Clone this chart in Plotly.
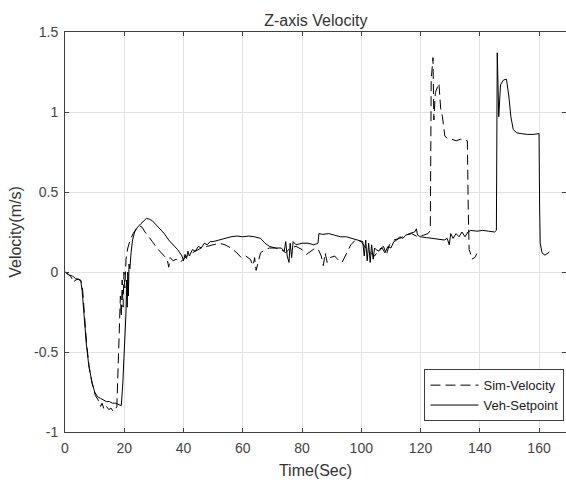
import plotly.graph_objects as go

# Sim-Velocity (dashed)
sim_t = [0, 1, 2, 2.5, 3.0, 3.5, 4.5, 5.5, 6.0, 6.5, 7.3, 8.2, 9.2, 10.2, 11.2, 12.0, 12.5, 13.2,
         14.0, 14.8, 15.5, 16.2, 17.0, 17.5, 18.0, 18.4, 18.7, 19.0, 19.3, 19.6, 19.9, 20.2, 20.6,
         21.2, 22, 23, 24, 25, 26, 27, 28.3, 29.5, 31, 32.5, 33.5, 34.5, 35, 35.5, 36.5, 37.5,
         38.5, 39.5, 40.5, 42, 44, 46, 48, 50, 52, 54, 56, 58, 59.5, 61, 62.5, 63.5, 64, 64.5,
         65.2, 66, 67.5, 69, 71, 73, 74.5, 76, 78, 80, 81.5, 83, 84.5, 85.5, 86.5, 87.2, 87.8,
         88.5, 89.5, 91, 92.5, 93.5, 94.5, 95.5, 96.5, 98, 100, 101.5, 103, 104.5, 106, 107.5,
         108.5, 109.5, 111, 113, 115, 117, 119, 121, 122.5, 123.3, 123.6, 124.2, 124.5, 125.0,
         125.6, 126.2, 126.8, 127.4, 128.2, 129, 130.5, 132, 133.5, 135.8, 136.1, 136.4, 136.8,
         137.3, 138.3, 139]
sim_v = [0, -0.01, -0.03, -0.05, -0.065, -0.05, -0.045, -0.06, -0.12, -0.25, -0.45, -0.6, -0.7,
         -0.77, -0.8, -0.84, -0.82, -0.86, -0.84, -0.86, -0.85, -0.87, -0.86, -0.84, -0.55, -0.3,
         -0.15, -0.28, -0.05, -0.22, 0.0, -0.1, 0.08, 0.15, 0.2, 0.24, 0.27, 0.29, 0.28, 0.25,
         0.22, 0.19, 0.15, 0.12, 0.1, 0.08, 0.03, 0.09, 0.07, 0.08, 0.06, 0.07, 0.09, 0.11, 0.13,
         0.15, 0.16, 0.17, 0.18, 0.17, 0.15, 0.12, 0.09, 0.1, 0.08, 0.04, 0.09, 0.01, 0.07, 0.12,
         0.14, 0.15, 0.15, 0.14, 0.12, 0.15, 0.16, 0.14, 0.11, 0.13, 0.15, 0.14, 0.1, 0.04, 0.12,
         0.06, 0.09, 0.1, 0.07, 0.06, 0.1, 0.14, 0.17, 0.2, 0.19, 0.15, 0.12, 0.1, 0.14, 0.16,
         0.11, 0.17, 0.2, 0.21, 0.23, 0.24, 0.22, 0.23, 0.24, 0.26, 1.2, 1.34, 0.95, 1.12, 1.15,
         1.18, 1.02, 0.97, 0.85, 0.835, 0.83, 0.82, 0.83, 0.82, 0.4, 0.14, 0.12, 0.08, 0.09, 0.115]

# Veh-Setpoint (solid)
veh_t = [0, 0.5, 1.5, 2.5, 3.5, 4.5, 5.3, 5.8, 6.5, 7.2, 8.0, 9.0, 10.0, 11.0, 12.0, 13.0, 14.0,
         15.0, 16.0, 17.0, 18.0, 19.0, 19.5, 20.2, 20.6, 20.8, 21.0, 21.2, 21.4, 21.6, 21.9, 22.3,
         22.8, 23.5, 24.5, 25.5, 26.5, 27.5, 28.5, 29.5, 30.5, 32, 33.5, 35, 36.5, 38, 39.5, 40,
         40.5, 41, 41.5, 42, 43, 44, 45, 46, 47, 48, 49, 50, 52, 54, 56, 58, 60, 62, 64, 66, 67.5,
         69, 71, 73, 74, 74.5, 75, 75.6, 76, 76.5, 77, 78, 80, 82, 84, 85.4, 85.7, 87, 89, 91, 93,
         95, 97, 99, 100.5, 101, 101.5, 102, 102.5, 103, 103.5, 104, 104.5, 105, 106, 107, 108,
         109, 110, 111, 112, 113, 114, 115, 116, 117, 118, 118.6, 119, 120, 122, 124, 126, 128,
         129, 129.7, 130.2, 131, 132, 133, 134, 135, 136, 137, 139, 141, 143, 145, 145.6, 145.9,
         146.4, 147.0, 148, 149, 149.8, 150.5, 151.3, 152.5, 154, 156, 158, 160.0, 160.2, 160.4,
         161.0, 162.0, 163.5]
veh_v = [0, -0.01, -0.02, -0.025, -0.04, -0.045, -0.05, -0.12, -0.3, -0.45, -0.58, -0.68, -0.75,
         -0.78, -0.79, -0.8, -0.81, -0.81, -0.82, -0.82, -0.83, -0.835, -0.7, -0.45, -0.25, -0.05,
         -0.22, 0.0, -0.15, 0.05, 0.02, 0.12, 0.2, 0.25, 0.28, 0.3, 0.32, 0.335, 0.33, 0.32, 0.3,
         0.27, 0.24, 0.2, 0.17, 0.14, 0.1, 0.07, 0.11, 0.085, 0.13, 0.1, 0.14, 0.13, 0.16, 0.15,
         0.18, 0.17, 0.19, 0.19, 0.2, 0.21, 0.22, 0.225, 0.22, 0.225, 0.22, 0.21, 0.18, 0.16, 0.15,
         0.15, 0.13, 0.19, 0.1, 0.06, 0.18, 0.09, 0.19, 0.17, 0.18, 0.18, 0.17, 0.18, 0.24, 0.235,
         0.24, 0.23, 0.22, 0.22, 0.21, 0.2, 0.19, 0.1, 0.2, 0.07, 0.18, 0.06, 0.17, 0.08, 0.15,
         0.14, 0.13, 0.15, 0.12, 0.16, 0.15, 0.19, 0.2, 0.22, 0.21, 0.23, 0.24, 0.245, 0.25, 0.27,
         0.23, 0.22, 0.215, 0.21, 0.205, 0.2, 0.21, 0.17, 0.24, 0.21, 0.24, 0.22, 0.25, 0.22, 0.25,
         0.26, 0.255, 0.26, 0.255, 0.25, 0.26, 1.37, 0.97, 1.17, 1.2, 1.205, 1.1, 0.97, 0.89, 0.87,
         0.865, 0.86, 0.86, 0.865, 0.4, 0.18, 0.12, 0.105, 0.125]

x_ticks = [0, 20, 40, 60, 80, 100, 120, 140, 160]
y_ticks = [-1, -0.5, 0, 0.5, 1, 1.5]
y_tick_text = ["-1", "-0.5", "0", "0.5", "1", "1.5"]

FONT = "Liberation Sans, Arial"

fig = go.Figure()
fig.add_trace(go.Scatter(x=sim_t, y=sim_v, mode="lines", name="Sim-Velocity",
                         line=dict(color="black", width=1, dash="10px,5px")))
fig.add_trace(go.Scatter(x=veh_t, y=veh_v, mode="lines", name="Veh-Setpoint",
                         line=dict(color="black", width=1)))

axis_common = dict(showline=True, linecolor="#404040", linewidth=1, mirror="allticks",
                   ticks="inside", ticklen=4, tickcolor="#404040", ticklabelstandoff=3,
                   showgrid=True, gridcolor="#e3e3e3", gridwidth=1, zeroline=False,
                   tickfont=dict(family=FONT, size=14, color="#444444"))

fig.update_xaxes(range=[0, 169.1], tickvals=x_ticks, **axis_common,
                 title=dict(text="Time(Sec)", standoff=10,
                            font=dict(family=FONT, size=16, color="#333333")))
fig.update_yaxes(range=[-1, 1.5], tickvals=y_ticks, ticktext=y_tick_text, **axis_common,
                 title=dict(text="Velocity(m/s)", standoff=8,
                            font=dict(family=FONT, size=16, color="#333333")))

fig.update_layout(
    width=566, height=485,
    margin=dict(l=64.5, r=0, t=32.3, b=53.3, autoexpand=False),
    paper_bgcolor="white", plot_bgcolor="white",
    title=dict(text="Z-axis Velocity", x=0.558, xanchor="center", y=0.9588, yanchor="middle",
               font=dict(family=FONT, size=16, color="#333333")),
    legend=dict(x=0.997, y=0.027, xanchor="right", yanchor="bottom",
                bgcolor="white", bordercolor="#404040", borderwidth=1,
                font=dict(family=FONT, size=13, color="#222222"),
                tracegroupgap=0, itemwidth=48),
    showlegend=True,
)

fig.write_html("out.html", config={"displayModeBar": False},
               post_script="document.body.style.margin='0';document.body.style.overflow='hidden';")
